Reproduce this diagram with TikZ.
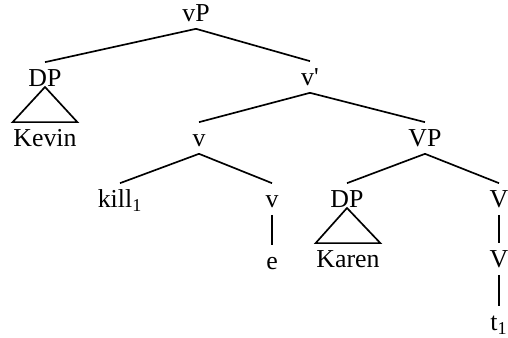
\documentclass[tikz,border=0pt]{standalone}
\usepackage{fontspec}
\setmainfont{Liberation Serif}
\usepackage{tikz}
\newcommand{\coidx}[1]{\textsubscript{#1}}

\begin{document}
\begin{tikzpicture}[every node/.style={anchor=base,inner xsep=0pt,inner ysep=0.12cm,
                      text height=0.36cm,text depth=0pt,font=\fontsize{14.7pt}{17pt}\selectfont},
                    line width=0.95pt]
  \useasboundingbox (0,0) rectangle (10.16,6.76);
  % top levels
  \node (vP) at (3.92,6.32) {vP};
  \node (DPa) at (0.90,5.02) {DP};
  \node (Kevin) at (0.90,3.82) {Kevin};
  \node (vbar) at (6.20,5.04) {v\textquotesingle};
  \node (v) at (3.98,3.82) {v};
  \node (VP) at (8.50,3.82) {VP};
  % lower levels
  \node (kill) at (2.40,2.60) {kill\coidx{1}};
  \node (vb) at (5.44,2.60) {v};
  \node (e) at (5.44,1.36) {e};
  \node (DPb) at (6.94,2.60) {DP};
  \node (Karen) at (6.96,1.40) {Karen};
  \node (V1) at (9.98,2.60) {V};
  \node (V2) at (9.98,1.40) {V};
  \node (t) at (9.98,0.14) {t\coidx{1}};
  % branches
  \draw (vP.south)--(DPa.north); \draw (vP.south)--(vbar.north);
  \draw (vbar.south)--(v.north); \draw (vbar.south)--(VP.north);
  \draw (v.south)--(kill.north); \draw (v.south)--(vb.north);
  \draw (vb.south)--(e.north);
  \draw (VP.south)--(DPb.north); \draw (VP.south)--(V1.north);
  \draw (V1.south)--(V2.north); \draw (V2.south)--(t.north);
  % triangles
  \draw (DPa.base)--(Kevin.north west)--(Kevin.north east)--cycle;
  \draw (DPb.base)--(Karen.north west)--(Karen.north east)--cycle;
\end{tikzpicture}
\end{document}
